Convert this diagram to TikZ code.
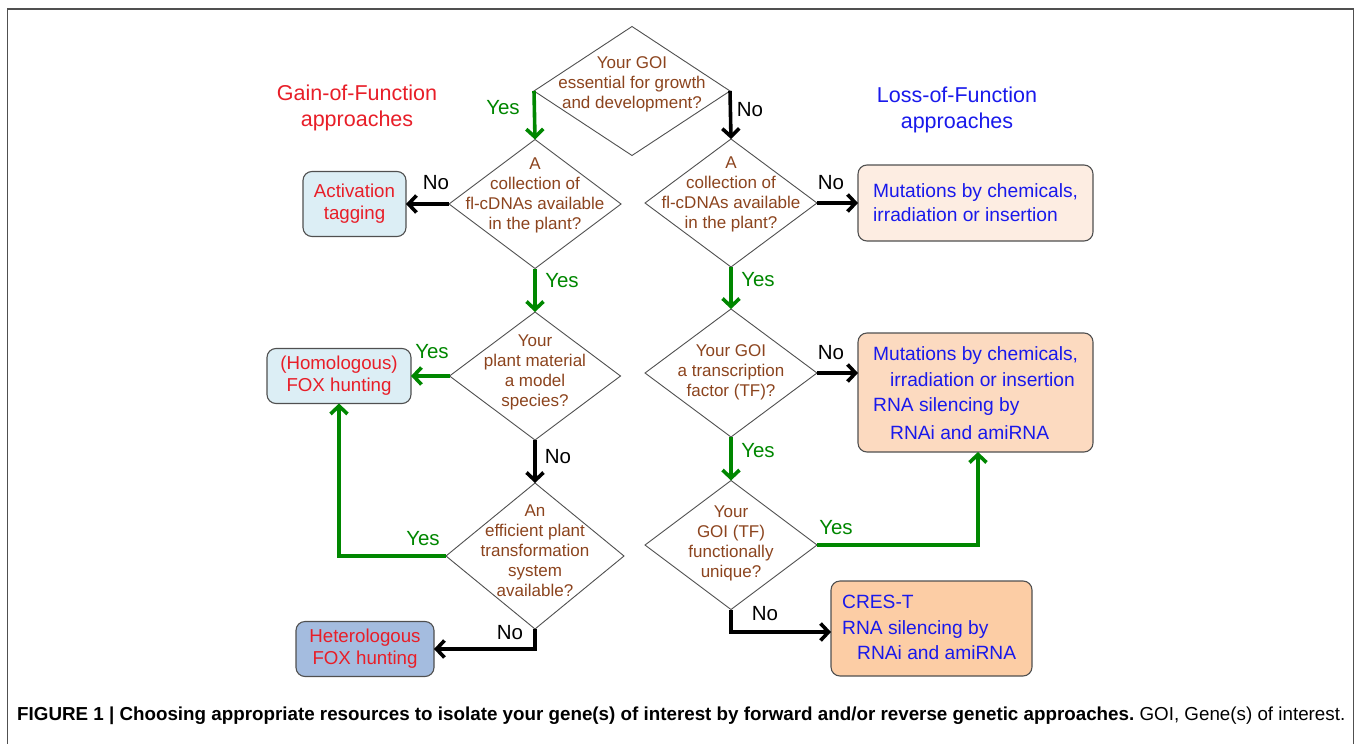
\documentclass[tikz,border=0pt]{standalone}
\usepackage{graphicx}
\usepackage{fontspec}
\setmainfont{Liberation Sans}
\usetikzlibrary{shapes.geometric,arrows.meta}
\definecolor{qbrown}{RGB}{140,68,30}
\definecolor{qred}{RGB}{232,30,40}
\definecolor{qblue}{RGB}{25,25,235}
\definecolor{qgreen}{RGB}{0,135,0}
\definecolor{lblue}{RGB}{220,238,245}
\definecolor{mblue}{RGB}{164,188,223}
\definecolor{peachA}{RGB}{253,237,226}
\definecolor{peachB}{RGB}{252,218,192}
\definecolor{peachC}{RGB}{252,205,165}
\definecolor{edgecol}{RGB}{80,80,80}
\tikzset{
  dia/.style 2 args={diamond, draw=edgecol, line width=0.9pt, inner sep=0pt, outer sep=0pt,
    minimum width=#1, minimum height=#2},
  qtext/.style={align=center, inner sep=0pt, text=qbrown, font=\fontsize{17}{20}\selectfont},
  boxnode/.style={draw=edgecol, line width=1.1pt, rounded corners=9pt, inner sep=0pt, outer sep=0pt},
  boxtext/.style={align=center, font=\fontsize{18.7}{22}\selectfont},
  btext/.style={anchor=west, inner sep=0pt, text=qblue, font=\fontsize{19.2}{22}\selectfont},
  heading/.style={align=center, inner sep=0pt, font=\fontsize{21.5}{26}\selectfont},
  ans/.style={inner sep=0pt, font=\fontsize{20.5}{22}\selectfont},
  arr/.style={line width=3.6pt, -{Straight Barb[length=8pt,width=17pt]}},
  garr/.style={arr, draw=qgreen},
  barr/.style={arr, draw=black},
}
\begin{document}
\begin{tikzpicture}[x=1pt,y=-1pt]
\useasboundingbox (0,0) rectangle (1357,744);
\fill[white] (0,0) rectangle (1357,744);
\draw[line width=1.6pt, edgecol] (7.5,744) -- (7.5,9) -- (1353.5,9) -- (1353.5,744);

% headings
\node[heading, text=qred] (gain) at (357,108) {Gain-of-Function\\approaches};
\node[heading, text=qblue] (loss) at (957,110) {Loss-of-Function\\approaches};

% diamonds
\node[dia={196pt}{129pt}] (d1) at (632,91) {};
\node[qtext] (t1) at (632,84) {Your GOI\\essential for growth\\and development?};
\node[dia={172pt}{129pt}] (d2l) at (535,204) {};
\node[qtext] (t2l) at (535,195) {A\\collection of\\fl-cDNAs available\\in the plant?};
\node[dia={172pt}{128pt}] (d2r) at (731,203) {};
\node[qtext] (t2r) at (731,194) {A\\collection of\\fl-cDNAs available\\in the plant?};
\node[dia={171pt}{128pt}] (d3l) at (535,376) {};
\node[qtext] (t3l) at (535,372) {Your\\plant material\\a model\\species?};
\node[dia={178pt}{146pt}] (d4l) at (535,556) {};
\node[qtext] (t4l) at (535,551) {An\\efficient plant\\transformation\\system\\available?};
\node[dia={172pt}{128pt}] (d3r) at (731,373) {};
\node[qtext] (t3r) at (731,372) {Your GOI\\a transcription\\factor (TF)?};
\node[dia={172pt}{129pt}] (d4r) at (731,545) {};
\node[qtext] (t4r) at (731,543) {Your\\GOI (TF)\\functionally\\unique?};

% result boxes
\node[boxnode, fill=lblue, minimum width=103pt, minimum height=65pt] (act) at (354.5,204) {};
\node[boxtext, text=qred] (acttx) at (act) {Activation\\tagging};
\node[boxnode, fill=lblue, minimum width=144pt, minimum height=55pt] (hom) at (339,376) {};
\node[boxtext, text=qred] (homtx) at (hom) {(Homologous)\\FOX hunting};
\node[boxnode, fill=mblue, minimum width=138pt, minimum height=55pt] (het) at (365,649) {};
\node[boxtext, text=qred] (hettx) at (het) {Heterologous\\FOX hunting};

\node[boxnode, fill=peachA, minimum width=235pt, minimum height=76pt] (mut1) at (975.5,203) {};
\node[btext] (m1a) at (873,193) {Mutations by chemicals,};
\node[btext] (m1b) at (873,215) {irradiation or insertion};

\node[boxnode, fill=peachB, minimum width=235pt, minimum height=119pt] (mut2) at (975.5,392.5) {};
\node[btext] (m2a) at (873,356) {Mutations by chemicals,};
\node[btext] (m2b) at (890,380) {irradiation or insertion};
\node[btext] (m2c) at (873,407) {RNA silencing by};
\node[btext] (m2d) at (890,433) {RNAi and amiRNA};

\node[boxnode, fill=peachC, minimum width=201pt, minimum height=95pt] (cres) at (931.5,628.5) {};
\node[btext] (c1) at (842,602) {CRES-T};
\node[btext] (c2) at (842,630) {RNA silencing by};
\node[btext] (c3) at (857,653) {RNAi and amiRNA};

% connectors
\draw[garr] (d1.west) -- (d2l.north);
\draw[barr] (d1.east) -- (d2r.north);
\draw[barr] (d2l.west) -- (act.east);
\draw[garr] (d2l.south) -- (d3l.north);
\draw[garr] (d3l.west) -- (hom.east);
\draw[barr] (d3l.south) -- (d4l.north);
\draw[garr] (d4l.west) -| (hom.south);
\draw[barr] (d4l.south) |- (het.east);
\draw[barr] (d2r.east) -- (mut1.west);
\draw[garr] (d2r.south) -- (d3r.north);
\draw[barr] (d3r.east) -- (d3r.east -| mut2.west);
\draw[garr] (d3r.south) -- (d4r.north);
\draw[garr] (d4r.east) -| ([xshift=2.5pt]mut2.south);
\draw[barr] (d4r.south) |- ([yshift=-3.5pt]cres.west);

% answer labels
\node[ans, text=qgreen] (a1) at (503,108) {Yes};
\node[ans] (a2) at (750,110) {No};
\node[ans] (a3) at (436,183) {No};
\node[ans, text=qgreen] (a4) at (562,281) {Yes};
\node[ans, text=qgreen] (a5) at (432,352) {Yes};
\node[ans] (a6) at (558,457) {No};
\node[ans, text=qgreen] (a7) at (423,539) {Yes};
\node[ans] (a8) at (510,633) {No};
\node[ans] (a9) at (831,183) {No};
\node[ans, text=qgreen] (a10) at (758,280) {Yes};
\node[ans] (a11) at (831,353) {No};
\node[ans, text=qgreen] (a12) at (758,451) {Yes};
\node[ans, text=qgreen] (a13) at (836,528) {Yes};
\node[ans] (a14) at (765,614) {No};

% caption
\node[anchor=west, inner sep=0pt] (cap) at (17,716) {\resizebox{1328pt}{!}{\fontsize{15}{18}\selectfont\bfseries FIGURE 1 | Choosing appropriate resources to isolate your gene(s) of interest by forward and/or reverse genetic approaches.\mdseries\ GOI, Gene(s) of interest.}};
\end{tikzpicture}
\end{document}
